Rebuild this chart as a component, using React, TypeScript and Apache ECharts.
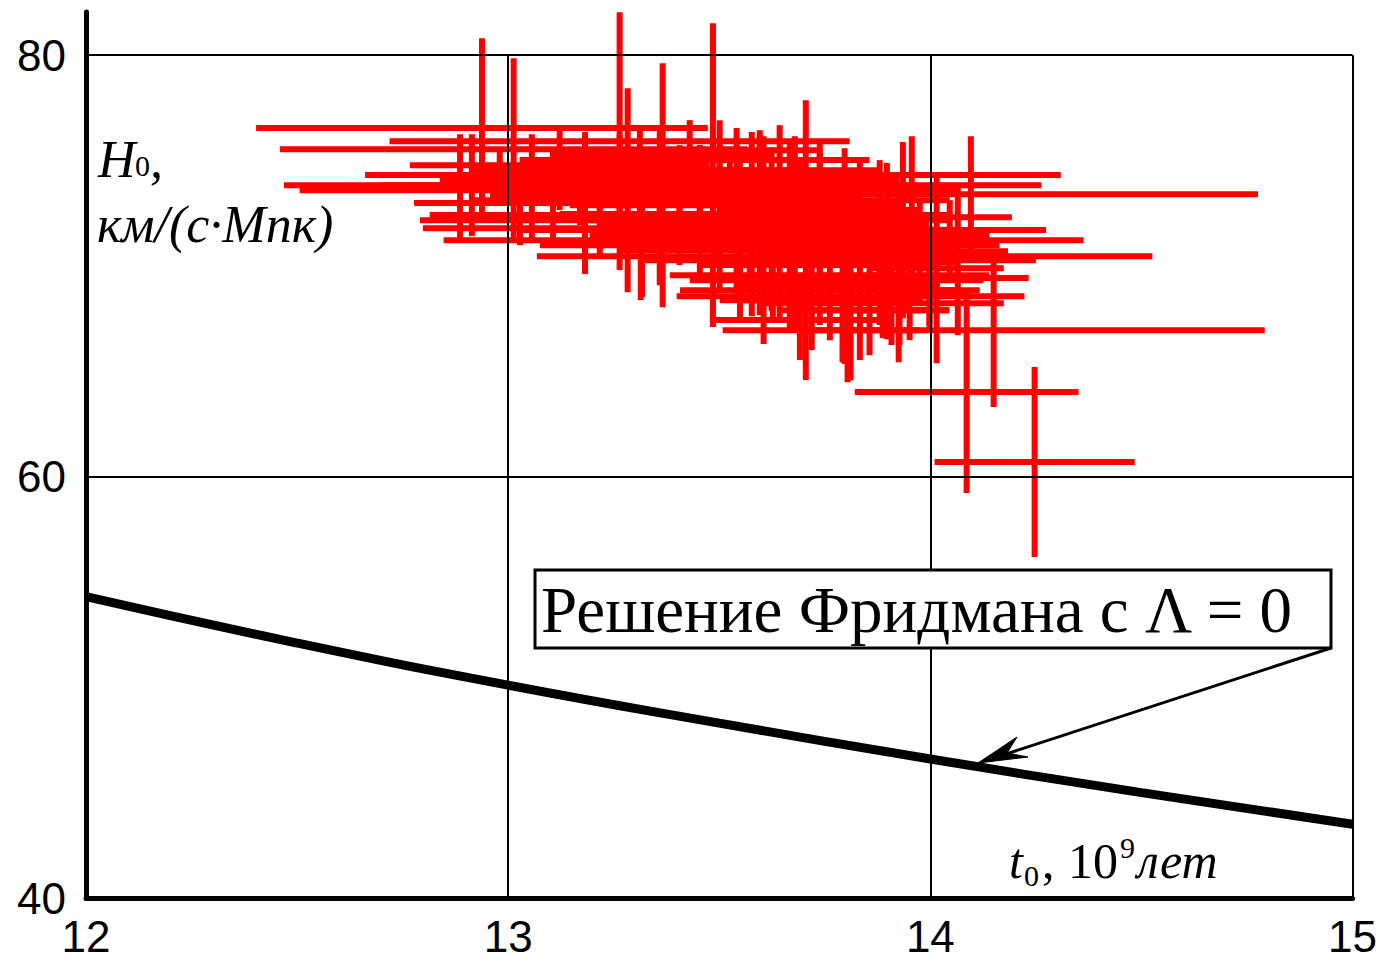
import React, { useEffect, useRef } from "react";
import * as echarts from "echarts";

// Axis ticks and grid lines
const X_MIN = 12;
const X_MAX = 15;
const Y_MIN = 40;
const Y_MAX = 82.05;
const GRID_T = [13, 14, 15];
const GRID_H = [60, 80];

// Friedmann solution with Lambda = 0
const FRIEDMANN_T = [12, 12.5, 13, 13.5, 14, 14.5, 15];
const FRIEDMANN_H = [54.3, 52.1, 50.1, 48.3, 46.6, 45.0, 43.5];

// Measurements: age t0 (Gyr) with error, Hubble constant H0 with error
const AGE = [
  12.938, 13.264, 13.013, 13.485, 13.366, 13.283, 13.182, 13.317, 13.605, 13.797,
  13.811, 14.15, 14.086, 14.247, 13.705, 14.096, 13.956, 13.935, 14.015, 13.925,
  13.887, 13.897, 13.804, 13.908, 13.541, 13.577, 13.624, 13.679, 12.886, 12.914,
  13.056, 13.106, 13.217, 13.314, 13.719, 13.792, 13.627, 14.065,
  13.43, 13.454, 13.501, 13.549, 13.643, 13.738, 13.833, 13.762, 13.856, 13.951,
  13.975, 13.406, 13.312, 13.122, 13.217, 13.596, 13.667, 13.454, 13.88, 13.998,
  13.691, 13.833, 13.359, 13.549, 13.028,
  13.359, 13.501, 13.643, 13.264, 13.454, 13.596, 13.738, 13.359, 13.549, 13.691,
  13.88, 13.312, 13.454, 13.62, 13.785, 13.927, 13.406, 13.572, 13.738, 13.88,
  13.501, 13.667, 13.833, 13.975, 13.596, 13.738, 13.88, 13.998, 13.667, 13.809,
  13.927, 13.122, 12.98, 13.17, 14.046, 13.525, 13.264,
];
const AGE_ERR = [
  0.535, 0.545, 0.554, 0.824, 0.897, 0.777, 0.405, 0.519, 0.758, 0.729,
  0.412, 0.642, 0.265, 0.237, 0.251, 0.68, 0.237, 0.339, 0.159, 0.308,
  0.287, 0.287, 0.256, 0.218, 0.419, 0.36, 0.313, 0.225, 0.189, 0.213,
  0.218, 0.244, 0.308, 0.287, 0.18, 0.223, 0.178, 0.185,
  0.331, 0.379, 0.355, 0.284, 0.26, 0.237, 0.213, 0.213, 0.189, 0.166,
  0.189, 0.426, 0.403, 0.355, 0.403, 0.284, 0.26, 0.237, 0.26, 0.142,
  0.213, 0.142, 0.284, 0.142, 0.237,
  0.26, 0.237, 0.213, 0.308, 0.284, 0.237, 0.189, 0.331, 0.26, 0.237,
  0.166, 0.26, 0.26, 0.284, 0.213, 0.118, 0.213, 0.26, 0.237, 0.166,
  0.189, 0.213, 0.189, 0.095, 0.166, 0.189, 0.142, 0.095, 0.166, 0.166,
  0.118, 0.284, 0.237, 0.213, 0.095, 0.213, 0.237,
];
const HUBBLE = [
  76.54, 75.92, 75.54, 74.31, 73.83, 73.59, 72.98, 71.79, 71.22, 70.46,
  68.56, 66.95, 64.01, 60.69, 71.22, 73.4, 72.31, 71.7, 69.89, 69.42,
  68.23, 70.7, 68.85, 69.32, 72.46, 71.98, 71.74, 71.55, 73.74, 73.83,
  73.69, 72.98, 73.12, 71.7, 70.04, 69.32, 70.04, 70.27,
  75.02, 73.36, 72.88, 70.75, 69.56, 72.65, 72.41, 68.37, 67.9, 68.85,
  70.98, 74.07, 74.54, 74.78, 72.41, 74.54, 73.59, 71.7, 71.46, 69.56,
  67.43, 66.95, 70.98, 68.85, 72.17,
  75.26, 75.49, 75.02, 73.83, 74.31, 73.83, 74.07, 73.12, 73.12, 72.88,
  73.12, 72.41, 72.17, 72.17, 71.93, 72.17, 71.46, 71.22, 70.98, 70.75,
  70.27, 70.27, 70.04, 70.18, 69.32, 69.09, 69.09, 68.61, 68.37, 67.9,
  67.9, 74.07, 74.31, 73.36, 71.22, 73.59, 75.02,
];
const HUBBLE_ERR = [
  4.27, 6.12, 4.32, 7.21, 5.79, 4.84, 3.37, 3.27, 4.93, 5.12,
  3.99, 3.65, 4.79, 4.51, 6.64, 2.75, 3.84, 4.18, 4.51, 3.99,
  1.66, 4.18, 4.37, 3.08, 4.08, 4.37, 3.89, 4.6, 2.51, 2.42,
  2.56, 2.09, 2.37, 3.32, 4.03, 3.89, 2.7, 3.56,
  1.9, 2.37, 2.85, 2.37, 2.14, 2.85, 2.61, 1.9, 2.14, 2.37,
  2.14, 1.66, 1.9, 1.66, 1.9, 1.9, 2.37, 2.37, 1.9, 2.37,
  1.9, 1.42, 1.9, 1.42, 1.19,
  1.42, 1.42, 1.66, 1.42, 1.42, 1.9, 1.9, 1.66, 1.9, 2.14,
  1.9, 1.42, 1.9, 2.14, 1.9, 1.66, 1.42, 1.9, 2.14, 2.14,
  1.42, 1.9, 1.9, 1.9, 1.66, 1.9, 1.9, 1.66, 1.42, 1.66,
  1.66, 1.42, 1.19, 1.42, 1.9, 1.66, 1.19,
];

const ANNOTATION = "Решение Фридмана с Λ = 0";

const SERIF = '"Liberation Serif", "Times New Roman", serif';
const SANS = '"Liberation Sans", Arial, sans-serif';

export default function App() {
  const ref = useRef<HTMLDivElement>(null);

  useEffect(() => {
    if (!ref.current) return;
    const chart = echarts.init(ref.current, null, { renderer: "svg" });

    const crosses = AGE.map((t, i) => [t, HUBBLE[i], AGE_ERR[i], HUBBLE_ERR[i]]);
    const curve = FRIEDMANN_T.map((t, i) => [t, FRIEDMANN_H[i]]);
    const gridLines: any[] = [
      ...GRID_H.map((h) => [{ coord: [X_MIN, h] }, { coord: [X_MAX, h] }]),
      ...GRID_T.map((t) => [{ coord: [t, Y_MIN] }, { coord: [t, 80] }]),
    ];

    // text placed by its baseline (bottom-aligned box shifted by descent)
    const txt = (text: string, x: number, baseline: number, size: number, italic: boolean, family = SERIF) => ({
      type: "text",
      x,
      y: baseline + size * 0.145,
      z: 110,
      style: {
        text,
        fontSize: size,
        fontFamily: family,
        fontStyle: italic ? "italic" : "normal",
        fill: "#000",
        align: "left",
        verticalAlign: "bottom",
      },
    });

    chart.setOption({
      animation: false,
      backgroundColor: "#fff",
      grid: { left: 86, right: 27, top: 12, bottom: 62, containLabel: false },
      xAxis: {
        type: "value",
        min: X_MIN,
        max: X_MAX,
        interval: 1,
        axisLine: { show: true, lineStyle: { color: "#000", width: 5 } },
        axisTick: { show: false },
        splitLine: { show: false },
        axisLabel: { color: "#000", fontSize: 44, lineHeight: 38, fontFamily: SANS, margin: 19 },
      },
      yAxis: {
        type: "value",
        min: Y_MIN,
        max: Y_MAX,
        interval: 20,
        axisLine: { show: true, lineStyle: { color: "#000", width: 5 } },
        axisTick: { show: false },
        splitLine: { show: false },
        axisLabel: {
          color: "#000",
          fontSize: 44,
          fontFamily: SANS,
          margin: 20,
          showMaxLabel: false,
          formatter: (v: number) => (Math.abs(v % 20) < 1e-6 ? String(v) : ""),
        },
      },
      series: [
        {
          type: "custom",
          z: 2,
          clip: false,
          silent: true,
          data: crosses,
          encode: { x: 0, y: 1 },
          renderItem: (_p: any, api: any) => {
            const t = api.value(0);
            const h = api.value(1);
            const dt = api.value(2);
            const dh = api.value(3);
            const a = api.coord([t - dt, h]);
            const b = api.coord([t + dt, h]);
            const c = api.coord([t, h + dh]);
            const d = api.coord([t, h - dh]);
            const style = { stroke: "#ff0000", lineWidth: 6, fill: "none" };
            return {
              type: "group",
              children: [
                { type: "line", shape: { x1: a[0], y1: a[1], x2: b[0], y2: b[1] }, style },
                { type: "line", shape: { x1: c[0], y1: c[1], x2: d[0], y2: d[1] }, style },
              ],
            };
          },
        },
        {
          type: "line",
          z: 5,
          data: curve,
          smooth: true,
          symbol: "none",
          silent: true,
          lineStyle: { color: "#000", width: 9 },
          markLine: {
            silent: true,
            symbol: "none",
            label: { show: false },
            lineStyle: { color: "#000", width: 2, type: "solid" },
            data: gridLines,
          },
        },
      ],
      graphic: [
        {
          type: "rect",
          z: 100,
          shape: { x: 535, y: 570, width: 796, height: 78 },
          style: { fill: "#fff", stroke: "#000", lineWidth: 3 },
        },
        txt(ANNOTATION, 541, 633, 65, false),
        {
          type: "line",
          z: 100,
          shape: { x1: 1331, y1: 648, x2: 1000, y2: 756 },
          style: { stroke: "#000", lineWidth: 3 },
        },
        {
          type: "polygon",
          z: 100,
          shape: { points: [[978, 763], [1017, 737], [1007, 753], [1028, 757]] },
          style: { fill: "#000", stroke: "#000", lineWidth: 1 },
        },
        txt("H", 98, 178, 52, true),
        txt("0", 135, 176, 30, false),
        txt(",", 150, 178, 52, true),
        txt("км/(с·Мпк)", 97, 243, 52, true),
        txt("t", 1009, 879, 50, true),
        txt("0", 1024, 886, 30, false),
        txt(",", 1042, 879, 50, false),
        txt("10", 1068, 879, 50, false),
        txt("9", 1120, 858, 30, false),
        txt("лет", 1137, 879, 50, true),
      ],
    });

    return () => chart.dispose();
  }, []);

  return (
    <div
      ref={ref}
      style={{ position: "fixed", left: 0, top: 0, width: 1380, height: 960, background: "#fff" }}
    />
  );
}
